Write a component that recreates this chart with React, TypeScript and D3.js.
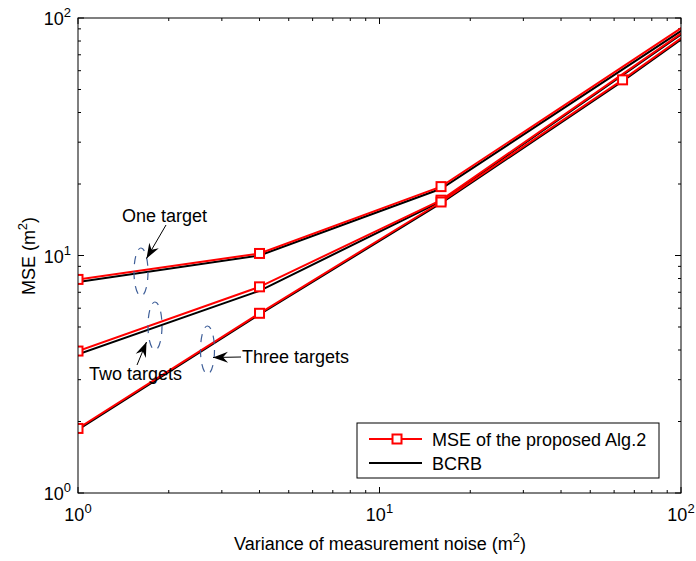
import React from "react";
import * as d3 from "d3";

// measurement noise variance (m^2); last point lies beyond the axis and gets clipped
const noiseOneTwo = [1, 4, 16, 256];
const noiseThree = [1, 4, 16, 64, 256];

// MSE of the proposed Alg.2 and the BCRB, one pair per number of targets
const mseOne = [7.93, 10.2, 19.5, 199];
const bcrbOne = [7.73, 10.0, 19.1, 193];
const mseTwo = [3.96, 7.38, 17.1, 197];
const bcrbTwo = [3.84, 7.1, 16.9, 195];
const mseThree = [1.87, 5.71, 16.8, 54.9, 192];
const bcrbThree = [1.85, 5.65, 16.6, 54.2, 190];

const legendLabels = ["MSE of the proposed Alg.2", "BCRB"];
const FONT = "'Liberation Sans', Arial, Helvetica, sans-serif";

const W = 696;
const H = 561;
const plot = { left: 78, right: 681, top: 18, bottom: 493 };

const x = d3.scaleLog().domain([1, 100]).range([plot.left, plot.right]);
const y = d3.scaleLog().domain([1, 100]).range([plot.bottom, plot.top]);

const line = d3
  .line<[number, number]>()
  .x((d) => x(d[0]))
  .y((d) => y(d[1]));

const zip = (xs: number[], ys: number[]) =>
  xs.map((v, i) => [v, ys[i]] as [number, number]);

const isMajor = (v: number) => Math.abs(Math.log10(v) - Math.round(Math.log10(v))) < 1e-9;

// filled arrow head (MATLAB-ish "vback2")
const arrowHead = (fx: number, fy: number, tx: number, ty: number) => {
  const a = Math.atan2(ty - fy, tx - fx);
  const L = 15, w = 5.5, n = 10;
  const p = (dx: number, dy: number) =>
    [tx + dx * Math.cos(a) - dy * Math.sin(a), ty + dx * Math.sin(a) + dy * Math.cos(a)].join(",");
  return `M${p(0, 0)}L${p(-L, w)}L${p(-n, 0)}L${p(-L, -w)}Z`;
};

const Arrow = ({ fx, fy, tx, ty }: { fx: number; fy: number; tx: number; ty: number }) => (
  <g>
    <line x1={fx} y1={fy} x2={tx} y2={ty} stroke="#000" strokeWidth={1} />
    <path d={arrowHead(fx, fy, tx, ty)} fill="#000" />
  </g>
);

const Marker = ({ cx, cy }: { cx: number; cy: number }) => (
  <rect x={cx - 4.5} y={cy - 4.5} width={9} height={9} fill="#fff" stroke="#ff0000" strokeWidth={2} />
);

export default function App() {
  const ticks = x.ticks();
  const red = [zip(noiseOneTwo, mseOne), zip(noiseOneTwo, mseTwo), zip(noiseThree, mseThree)];
  const black = [zip(noiseOneTwo, bcrbOne), zip(noiseOneTwo, bcrbTwo), zip(noiseThree, bcrbThree)];

  return (
    <svg
      width={W}
      height={H}
      style={{ position: "absolute", left: 0, top: 0, background: "#fff" }}
      fontFamily={FONT}
    >
      <defs>
        <clipPath id="plotArea">
          <rect x={plot.left} y={plot.top} width={plot.right - plot.left} height={plot.bottom - plot.top} />
        </clipPath>
      </defs>
      <rect width={W} height={H} fill="#fff" />

      {/* ticks on all four sides */}
      {ticks.map((t, i) => {
        const len = isMajor(t) ? 6 : 3;
        return (
          <g key={"xt" + i} stroke="#000" strokeWidth={1}>
            <line x1={x(t)} x2={x(t)} y1={plot.bottom} y2={plot.bottom - len} />
            <line x1={x(t)} x2={x(t)} y1={plot.top} y2={plot.top + len} />
          </g>
        );
      })}
      {y.ticks().map((t, i) => {
        const len = isMajor(t) ? 6 : 3;
        return (
          <g key={"yt" + i} stroke="#000" strokeWidth={1}>
            <line x1={plot.left} x2={plot.left + len} y1={y(t)} y2={y(t)} />
            <line x1={plot.right} x2={plot.right - len} y1={y(t)} y2={y(t)} />
          </g>
        );
      })}

      {/* series */}
      <g clipPath="url(#plotArea)" fill="none">
        {black.map((d, i) => (
          <path key={"b" + i} d={line(d) ?? ""} stroke="#000" strokeWidth={2} />
        ))}
        {red.map((d, i) => (
          <path key={"r" + i} d={line(d) ?? ""} stroke="#ff0000" strokeWidth={2} />
        ))}
      </g>
      <g clipPath="url(#plotArea)">
        {red.map((d, i) =>
          d
            .filter((p) => p[0] <= 100)
            .map((p, j) => <Marker key={`m${i}-${j}`} cx={x(p[0])} cy={y(p[1])} />)
        )}
      </g>

      {/* frame */}
      <rect
        x={plot.left}
        y={plot.top}
        width={plot.right - plot.left}
        height={plot.bottom - plot.top}
        fill="none"
        stroke="#000"
        strokeWidth={1}
      />

      {/* tick labels */}
      {ticks.filter(isMajor).map((t, i) => (
        <text key={"xl" + i} x={x(t)} y={521} fontSize={18} textAnchor="middle">
          10<tspan dy={-8} fontSize={13}>{Math.round(Math.log10(t))}</tspan>
        </text>
      ))}
      {y.ticks().filter(isMajor).map((t, i) => (
        <text key={"yl" + i} x={71} y={y(t) + 7} fontSize={18} textAnchor="end">
          10<tspan dy={-8} fontSize={13}>{Math.round(Math.log10(t))}</tspan>
        </text>
      ))}

      {/* axis titles */}
      <text x={380} y={550} fontSize={18} textAnchor="middle">
        Variance of measurement noise (m<tspan dy={-8} fontSize={13}>2</tspan>
        <tspan dy={8}>)</tspan>
      </text>
      <text transform="translate(35,256) rotate(-90)" fontSize={18} textAnchor="middle">
        MSE (m<tspan dy={-8} fontSize={13}>2</tspan>
        <tspan dy={8}>)</tspan>
      </text>

      {/* annotations */}
      <g fill="none" stroke="#3f5f99" strokeWidth={1.2} strokeDasharray="8,7">
        <ellipse cx={141} cy={272} rx={7} ry={24} />
        <ellipse cx={155} cy={326} rx={7} ry={24} />
        <ellipse cx={207.5} cy={350} rx={7} ry={24} />
      </g>
      <Arrow fx={166} fy={225} tx={146.5} ty={258.5} />
      <Arrow fx={137} fy={365} tx={146.5} ty={342} />
      <Arrow fx={241} fy={357} tx={213} ty={357.5} />
      <text x={122} y={222} fontSize={18}>One target</text>
      <text x={89} y={380} fontSize={18}>Two targets</text>
      <text x={242} y={363} fontSize={18}>Three targets</text>

      {/* legend */}
      <g>
        <rect x={357} y={423} width={302} height={55} fill="#fff" stroke="#000" strokeWidth={1} />
        <line x1={369} x2={422} y1={439} y2={439} stroke="#ff0000" strokeWidth={2} />
        <Marker cx={397} cy={439} />
        <line x1={369} x2={422} y1={463} y2={463} stroke="#000" strokeWidth={2} />
        <text x={432} y={445.5} fontSize={18}>{legendLabels[0]}</text>
        <text x={432} y={469.5} fontSize={18}>{legendLabels[1]}</text>
      </g>
    </svg>
  );
}
